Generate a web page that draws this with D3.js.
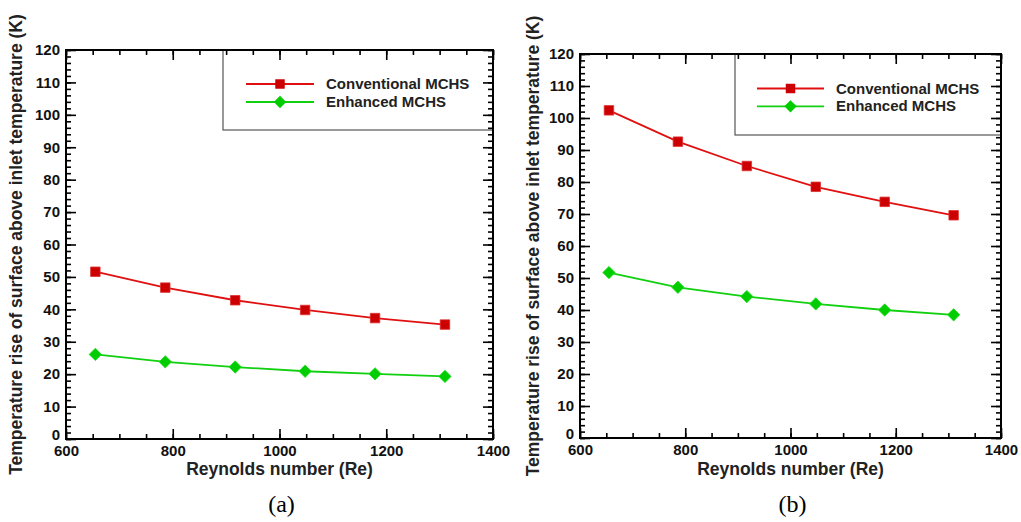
<!DOCTYPE html>
<html><head><meta charset="utf-8">
<script src="https://cdn.jsdelivr.net/npm/d3@7"></script>
<style>
html,body{margin:0;padding:0;background:#fff;}
svg{display:block;}
text{font-family:"Liberation Sans",Arial,sans-serif;}
text.serif{font-family:"Liberation Serif","Times New Roman",serif;}
</style></head>
<body><svg id="c" width="1021" height="522"></svg>
<script>
// ---- data ----
const reynolds = [655, 786, 917, 1048, 1179, 1310];
const conventionalA = [51.6, 46.7, 42.8, 39.8, 37.3, 35.3];
const enhancedA = [26.1, 23.8, 22.2, 20.9, 20.1, 19.3];
const conventionalB = [102.4, 92.6, 85.0, 78.5, 73.8, 69.6];
const enhancedB = [51.7, 47.1, 44.2, 41.9, 40.0, 38.5];
const seriesNames = ["Conventional MCHS", "Enhanced MCHS"];
const xTicks = [600, 800, 1000, 1200, 1400];
const yTicks = [0, 10, 20, 30, 40, 50, 60, 70, 80, 90, 100, 110, 120];
const panelLabels = ["(a)", "(b)"];
const xTitle = "Reynolds number (Re)";
const yTitle = "Temperature rise of surface above inlet temperature (K)";

const svg = d3.select("#c");
const RED = "#e01010", RED_FILL = "#cc0000";
const GREEN = "#10d010", GREEN_FILL = "#00cc00";

const panels = [
  {l:66, r:493, t:50, b:439, conv:conventionalA, enh:enhancedA, label:panelLabels[0], ytx:22,
   leg:{x0:223, y0:50, x1:493, y1:130, lx0:246, lx1:314, ly:[84,102], tx:326}},
  {l:580, r:1001, t:54, b:438, conv:conventionalB, enh:enhancedB, label:panelLabels[1], ytx:539,
   leg:{x0:735, y0:54, x1:1001, y1:135, lx0:757, lx1:824, ly:[88.5,106.3], tx:836}}
];

const minorX = d3.range(600, 1401, 50);
const minorY = d3.range(0, 121, 2);

panels.forEach(p => {
  const x = d3.scaleLinear().domain([600, 1400]).range([p.l, p.r]);
  const y = d3.scaleLinear().domain([0, 120]).range([p.b, p.t]);
  const g = svg.append("g");

  // legend box
  g.append("rect").attr("x", p.leg.x0).attr("y", p.leg.y0)
    .attr("width", p.leg.x1 - p.leg.x0).attr("height", p.leg.y1 - p.leg.y0)
    .attr("fill", "none").attr("stroke", "#555").attr("stroke-width", 1.2);

  const axStyle = sel => {
    sel.select(".domain").remove();
    sel.selectAll("line").attr("stroke", "#000").attr("stroke-width", 1.6);
    sel.selectAll("text").attr("font-size", 15).attr("font-weight", "bold").attr("fill", "#111");
  };
  // minor ticks
  g.append("g").attr("transform", `translate(0,${p.b})`).call(d3.axisBottom(x).tickValues(minorX).tickSize(-5).tickFormat("")).call(axStyle);
  g.append("g").attr("transform", `translate(0,${p.t})`).call(d3.axisTop(x).tickValues(minorX).tickSize(-5).tickFormat("")).call(axStyle);
  g.append("g").attr("transform", `translate(${p.l},0)`).call(d3.axisLeft(y).tickValues(minorY).tickSize(-5).tickFormat("")).call(axStyle);
  g.append("g").attr("transform", `translate(${p.r},0)`).call(d3.axisRight(y).tickValues(minorY).tickSize(-5).tickFormat("")).call(axStyle);
  // major ticks
  g.append("g").attr("transform", `translate(0,${p.b})`).call(d3.axisBottom(x).tickValues(xTicks).tickSize(-10).tickPadding(6).tickFormat(d3.format("d"))).call(axStyle);
  g.append("g").attr("transform", `translate(0,${p.t})`).call(d3.axisTop(x).tickValues(xTicks).tickSize(-10).tickFormat("")).call(axStyle);
  const yl = g.append("g").attr("transform", `translate(${p.l},0)`).call(d3.axisLeft(y).tickValues(yTicks).tickSize(-10).tickPadding(6).tickFormat(d3.format("d"))).call(axStyle);
  yl.selectAll(".tick").filter(d => d === 0).select("text").attr("dy", "0.05em");
  g.append("g").attr("transform", `translate(${p.r},0)`).call(d3.axisRight(y).tickValues(yTicks).tickSize(-10).tickFormat("")).call(axStyle);

  // frame
  g.append("rect").attr("x", p.l).attr("y", p.t).attr("width", p.r - p.l).attr("height", p.b - p.t)
    .attr("fill", "none").attr("stroke", "#000").attr("stroke-width", 2);

  // data
  const line = d3.line().x(d => x(d[0])).y(d => y(d[1]));
  const conv = reynolds.map((r, i) => [r, p.conv[i]]);
  const enh = reynolds.map((r, i) => [r, p.enh[i]]);
  g.append("path").datum(conv).attr("d", line).attr("fill", "none").attr("stroke", RED).attr("stroke-width", 1.8);
  g.append("path").datum(enh).attr("d", line).attr("fill", "none").attr("stroke", GREEN).attr("stroke-width", 1.8);
  const sq = d3.symbol().type(d3.symbolSquare).size(90);
  const dm = d3.symbol().type(d3.symbolSquare).size(76);
  g.selectAll(".sq").data(conv).join("path").attr("d", sq)
    .attr("transform", d => `translate(${x(d[0])},${y(d[1])})`)
    .attr("fill", RED_FILL).attr("stroke", "#e03030").attr("stroke-width", 0.8);
  g.selectAll(".dm").data(enh).join("path").attr("d", dm)
    .attr("transform", d => `translate(${x(d[0])},${y(d[1])}) rotate(45)`)
    .attr("fill", GREEN_FILL).attr("stroke", "#20dd20").attr("stroke-width", 0.8);

  // legend entries
  [[RED, RED_FILL, sq, ""], [GREEN, GREEN_FILL, dm, " rotate(45)"]].forEach((s, i) => {
    const ly = p.leg.ly[i];
    g.append("line").attr("x1", p.leg.lx0).attr("x2", p.leg.lx1).attr("y1", ly).attr("y2", ly)
      .attr("stroke", s[0]).attr("stroke-width", 1.8);
    g.append("path").attr("d", s[2]).attr("transform", `translate(${(p.leg.lx0 + p.leg.lx1) / 2},${ly})${s[3]}`)
      .attr("fill", s[1]);
    g.append("text").attr("x", p.leg.tx).attr("y", ly + 5).attr("font-size", 15).attr("font-weight", "bold")
      .attr("fill", "#222").text(seriesNames[i]);
  });

  // titles
  g.append("text").attr("x", (p.l + p.r) / 2).attr("y", 475).attr("text-anchor", "middle")
    .attr("font-size", 17.5).attr("font-weight", "bold").attr("fill", "#222").text(xTitle);
  g.append("text").attr("transform", `translate(${p.ytx},${(p.t + p.b) / 2}) rotate(-90)`)
    .attr("text-anchor", "middle").attr("font-size", 17.5).attr("font-weight", "bold").attr("fill", "#222").text(yTitle);
  g.append("text").attr("class", "serif").attr("x", (p.l + p.r) / 2 + 2).attr("y", 512).attr("text-anchor", "middle")
    .attr("font-size", 24).attr("fill", "#000").text(p.label);
});
</script></body></html>
